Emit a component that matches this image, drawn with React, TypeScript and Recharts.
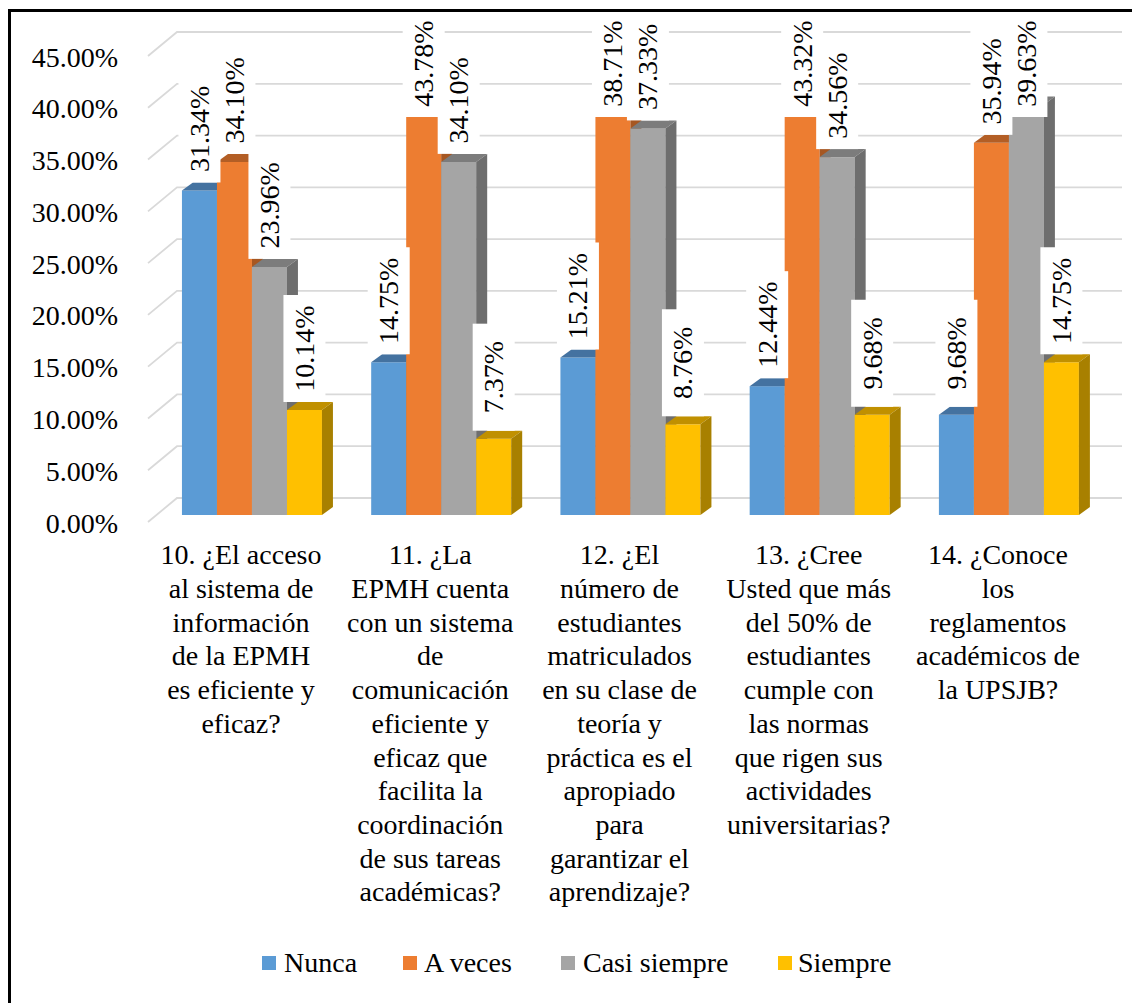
import React from 'react';
import { BarChart, Bar, XAxis, YAxis, CartesianGrid, LabelList, Legend } from 'recharts';

// ---- data ----
const categories = ['P10', 'P11', 'P12', 'P13', 'P14'];
const categoryLines: string[][] = [
  ['10. ¿El acceso', 'al sistema de', 'información', 'de la EPMH', 'es eficiente y', 'eficaz?'],
  ['11. ¿La', 'EPMH cuenta', 'con un sistema', 'de', 'comunicación', 'eficiente y', 'eficaz que', 'facilita la', 'coordinación', 'de sus tareas', 'académicas?'],
  ['12. ¿El', 'número de', 'estudiantes', 'matriculados', 'en su clase de', 'teoría y', 'práctica es el', 'apropiado', 'para', 'garantizar el', 'aprendizaje?'],
  ['13. ¿Cree', 'Usted que más', 'del 50% de', 'estudiantes', 'cumple con', 'las normas', 'que rigen sus', 'actividades', 'universitarias?'],
  ['14. ¿Conoce', 'los', 'reglamentos', 'académicos de', 'la UPSJB?'],
];
const nunca = [31.34, 14.75, 15.21, 12.44, 9.68];
const aVeces = [34.1, 43.78, 38.71, 43.32, 35.94];
const casiSiempre = [23.96, 34.1, 37.33, 34.56, 39.63];
const siempre = [10.14, 7.37, 8.76, 9.68, 14.75];
const yTicks = [0, 5, 10, 15, 20, 25, 30, 35, 40, 45];
const seriesNames = ['Nunca', 'A veces', 'Casi siempre', 'Siempre'];

const data = categories.map((c, i) => ({
  cat: c,
  idx: i,
  nunca: nunca[i],
  aVeces: aVeces[i],
  casiSiempre: casiSiempre[i],
  siempre: siempre[i],
}));

const FONT = "'Liberation Serif', 'Times New Roman', serif";
const DX = 11;
const DY = 8;

const make3D = (front: string, top: string, side: string) => (props: any) => {
  const { x, y, width, height } = props;
  if (x == null || y == null || !width || height == null) return <g />;
  return (
    <g>
      <rect x={x} y={y} width={width} height={height} fill={front} />
      <polygon
        points={`${x},${y} ${x + DX},${y - DY} ${x + width + DX},${y - DY} ${x + width},${y}`}
        fill={top}
      />
      <polygon
        points={`${x + width},${y} ${x + width + DX},${y - DY} ${x + width + DX},${y + height - DY} ${x + width},${y + height}`}
        fill={side}
      />
    </g>
  );
};

const renderLabel = (props: any) => {
  const vb = props.viewBox || {};
  const x = props.x ?? vb.x;
  const y = props.y ?? vb.y;
  const width = props.width ?? vb.width;
  const value = props.value;
  if (x == null || y == null || value == null) return <g />;
  const cx = x + width / 2;
  const boxH = 107;
  const boxW = 42;
  let top = y - DY - boxH;
  if (top < 10) top = 10;
  const cy = top + boxH / 2;
  return (
    <g>
      <rect x={cx - boxW / 2} y={top} width={boxW} height={boxH} fill="#ffffff" />
      <text
        x={cx}
        y={cy}
        transform={`rotate(-90 ${cx} ${cy})`}
        textAnchor="middle"
        dominantBaseline="central"
        style={{ fontFamily: FONT, fontSize: 28 }}
        fill="#000"
      >
        {Number(value).toFixed(2)}%
      </text>
    </g>
  );
};

const YTick = (props: any) => {
  const { y, payload } = props;
  return (
    <text x={118} y={y + 17.5} textAnchor="end" style={{ fontFamily: FONT, fontSize: 28 }} fill="#000">
      {Number(payload.value).toFixed(2)}%
    </text>
  );
};

const XTick = (props: any) => {
  const { x, payload, index } = props;
  const i = typeof payload.index === 'number' ? payload.index : index;
  const lines = categoryLines[i] || [];
  return (
    <text textAnchor="middle" style={{ fontFamily: FONT, fontSize: 28 }} fill="#000">
      {lines.map((l, k) => (
        <tspan key={k} x={x - 10} y={564.3 + k * 33.7}>
          {l}
        </tspan>
      ))}
    </text>
  );
};

const gridLine = (p: any) => {
  const y = p.y1;
  return (
    <path
      key={`g-${p.index}`}
      d={`M148,${y + 7} L177,${y - 17} L1122,${y - 17}`}
      stroke="#D9D9D9"
      strokeWidth={1.8}
      fill="none"
    />
  );
};

const LegendContent = (props: any) => {
  const payload = [...(props.payload || [])].sort(
    (a: any, b: any) => seriesNames.indexOf(a.value) - seriesNames.indexOf(b.value)
  );
  const sqX = [262, 403, 561, 778];
  const txX = [284, 424, 583, 798];
  return (
    <svg width={1132} height={50} style={{ display: 'block' }}>
      {payload.map((p: any, i: number) => (
        <g key={i}>
          <rect x={sqX[i]} y={16} width={14} height={14} fill={p.color} />
          <text x={txX[i]} y={32} style={{ fontFamily: FONT, fontSize: 28 }} fill="#000">
            {p.value}
          </text>
        </g>
      ))}
    </svg>
  );
};

export default function App() {
  return (
    <div
      style={{
        position: 'absolute',
        left: 0,
        top: 0,
        width: 1132,
        height: 1003,
        overflow: 'hidden',
        background: '#fff',
      }}
    >
      <div style={{ position: 'absolute', left: 0, top: 0 }}>
        <BarChart
          width={1132}
          height={1003}
          data={data}
          margin={{ top: 49, right: 29.4, bottom: 0, left: 0 }}
          barCategoryGap="13.5%"
          barGap={0}
        >
          <CartesianGrid vertical={false} horizontal={gridLine} />
          <XAxis
            dataKey="cat"
            height={488}
            axisLine={false}
            tickLine={false}
            interval={0}
            tick={<XTick />}
          />
          <YAxis
            type="number"
            domain={[0, 45]}
            ticks={yTicks}
            width={156.4}
            axisLine={false}
            tickLine={false}
            tick={<YTick />}
          />
          <Legend
            layout="horizontal"
            verticalAlign="middle"
            align="center"
            itemSorter={null as any}
            wrapperStyle={{ position: 'absolute', left: 0, top: 940, width: 1132, height: 50 }}
            content={<LegendContent />}
          />
          <Bar
            dataKey="nunca"
            name={seriesNames[0]}
            fill="#5B9BD5"
            isAnimationActive={false}
            shape={make3D('#5B9BD5', '#4472A0', '#3E6A95')}
          >
            <LabelList dataKey="nunca" content={renderLabel} />
          </Bar>
          <Bar
            dataKey="aVeces"
            name={seriesNames[1]}
            fill="#ED7D31"
            isAnimationActive={false}
            shape={make3D('#ED7D31', '#B35E25', '#A65722')}
          >
            <LabelList dataKey="aVeces" content={renderLabel} />
          </Bar>
          <Bar
            dataKey="casiSiempre"
            name={seriesNames[2]}
            fill="#A5A5A5"
            isAnimationActive={false}
            shape={make3D('#A5A5A5', '#7C7C7C', '#6E6E6E')}
          >
            <LabelList dataKey="casiSiempre" content={renderLabel} />
          </Bar>
          <Bar
            dataKey="siempre"
            name={seriesNames[3]}
            fill="#FFC000"
            isAnimationActive={false}
            shape={make3D('#FFC000', '#C09000', '#A88000')}
          >
            <LabelList dataKey="siempre" content={renderLabel} />
          </Bar>
        </BarChart>
      </div>
      <div
        style={{
          position: 'absolute',
          left: 8,
          top: 9,
          width: 1140,
          height: 1010,
          borderTop: '3px solid #000',
          borderLeft: '3px solid #000',
          boxSizing: 'border-box',
          pointerEvents: 'none',
        }}
      />
    </div>
  );
}
